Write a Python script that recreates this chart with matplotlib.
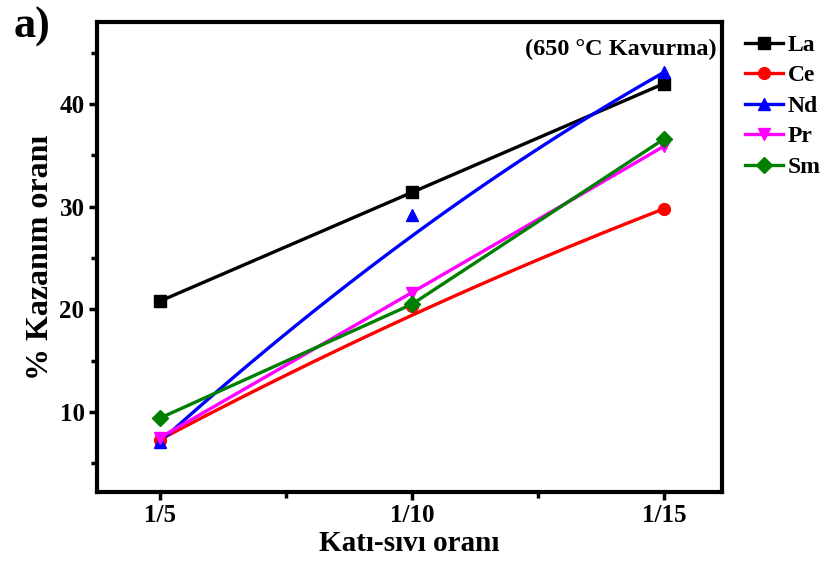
import numpy as np
import matplotlib.pyplot as plt
from matplotlib.ticker import FixedLocator

plt.rcParams['font.family'] = ['Liberation Serif', 'DejaVu Serif']
plt.rcParams['font.weight'] = 'bold'

categories = ["1/5", "1/10", "1/15"]
series_names = ["La", "Ce", "Nd", "Pr", "Sm"]
la = [20.8, 31.4, 42.0]
ce = [7.3, 20.3, 29.8]
nd = [7.1, 29.2, 43.1]
pr = [7.5, 21.6, 35.9]
sm = [9.4, 20.5, 36.6]
colors = ["#000000", "#ff0000", "#0000ff", "#ff00ff", "#008000"]
markers = ["s", "o", "^", "v", "D"]
smooth = [False, True, True, True, False]


def bezier(xs, ys, n=100):
    t = np.linspace(0, 1, n)
    bx = (1 - t) ** 2 * xs[0] + 2 * (1 - t) * t * xs[1] + t ** 2 * xs[2]
    by = (1 - t) ** 2 * ys[0] + 2 * (1 - t) * t * ys[1] + t ** 2 * ys[2]
    return bx, by


fig = plt.figure(figsize=(8.23, 5.61), dpi=100)
ax = fig.add_axes([97 / 823, 1 - 492 / 561, 625 / 823, 470 / 561])

x = np.arange(1, len(categories) + 1)
for name, vals, c, m, s in zip(series_names, [la, ce, nd, pr, sm], colors, markers, smooth):
    if s:
        cx, cy = bezier(x, vals)
        ax.plot(cx, cy, color=c, lw=2.4, zorder=2)
    else:
        ax.plot(x, vals, color=c, lw=2.4, zorder=2)
    ax.plot(x, vals, linestyle="none", marker=m, color=c, markersize=8.5, zorder=3)
    ax.plot([], [], color=c, lw=2.4, marker=m, markersize=8.5, label=name)

ax.set_xlim(0.75, 3.23)
ax.set_ylim(2.2, 48.0)
ax.set_xticks(x)
ax.set_xticklabels(categories)
ax.xaxis.set_minor_locator(FixedLocator([1.5, 2.5]))
ax.set_yticks([10, 20, 30, 40])
ax.yaxis.set_minor_locator(FixedLocator([5, 15, 25, 35, 45]))

for sp in ax.spines.values():
    sp.set_linewidth(3)
ax.tick_params(which="major", direction="out", length=6, width=2.5, labelsize=18, pad=3)
ax.tick_params(which="minor", direction="out", length=4, width=2.5)
for lab in ax.get_xticklabels() + ax.get_yticklabels():
    lab.set_fontweight("bold")

ax.set_xlabel("Katı-sıvı oranı", fontsize=21, fontweight="bold", labelpad=2)
ax.set_ylabel("% Kazanım oranı", fontsize=23, fontweight="bold", labelpad=3)

ax.text(0.992, 0.965, "(650 °C Kavurma)", transform=ax.transAxes, ha="right", va="top",
        fontsize=17.5, fontweight="bold")
fig.text(14 / 823, 1 - 27 / 561, "a)", fontsize=32, fontweight="bold", va="center", ha="left")

leg = ax.legend(loc="upper left", bbox_to_anchor=(1.022, 0.994), frameon=False,
                prop={"size": 17, "weight": "bold"}, handlelength=1.6,
                handletextpad=0.2, labelspacing=0.38, borderaxespad=0.2, borderpad=0.2)

fig.savefig("out.png", dpi=100)
